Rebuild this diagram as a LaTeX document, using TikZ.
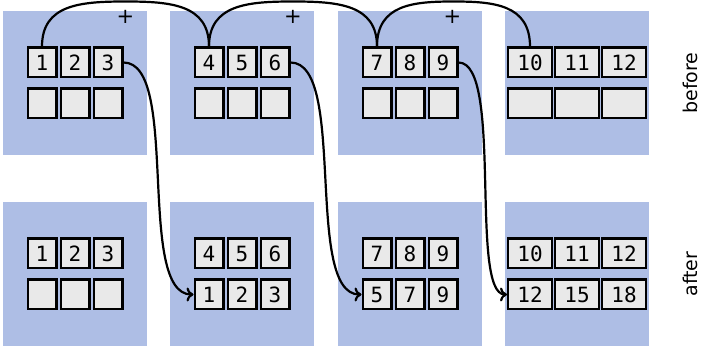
\documentclass[tikz,border=0pt]{standalone}
\usepackage{fontspec}
\setmainfont{DejaVu Sans}
\setsansfont{DejaVu Sans}
\setmonofont{DejaVu Sans Mono}
\usetikzlibrary{arrows.meta}

\definecolor{panelblue}{RGB}{174,190,229}
\definecolor{cellgray}{RGB}{233,233,233}

\newcommand\cellfont{\fontsize{21}{21}\selectfont\ttfamily}
\newcommand\labelfont{\fontsize{19}{19}\selectfont\sffamily}
\newcommand\plusfont{\fontsize{21}{21}\selectfont\sffamily}

% one row of three cells: name prefix, x of first cell, y, pitch, style, contents
\newcommand\cellrow[6]{%
  \foreach \v [count=\i] in {#6} {\node[#5] (#1\i) at ({#2+(\i-1)*#4},#3) {\v};}%
}

\tikzset{
  panel/.style={fill=panelblue, draw=none, minimum width=144pt, minimum height=144pt, inner sep=0pt},
  cell/.style={draw=black, line width=2.4pt, fill=cellgray, minimum width=28.6pt, minimum height=29.6pt, inner sep=0pt, font=\cellfont},
  widecell/.style={cell, minimum width=43.6pt},
  link/.style={line width=2.2pt, black},
  flow/.style={link, -{To[length=7pt,width=14pt]}},
  plus/.style={font=\plusfont, inner sep=0pt},
  rowlabel/.style={font=\labelfont, rotate=90, inner sep=0pt}
}

\begin{document}
\begin{tikzpicture}[x=1pt, y=-1pt]
  \useasboundingbox (0,0) rectangle (702,347);

  % panels
  \node[panel] (tp1) at (75,83) {};
  \node[panel] (tp2) at (242,83) {};
  \node[panel] (tp3) at (410,83) {};
  \node[panel] (tp4) at (577,83) {};
  \node[panel] (bp1) at (75,274) {};
  \node[panel] (bp2) at (242,274) {};
  \node[panel] (bp3) at (410,274) {};
  \node[panel] (bp4) at (577,274) {};

  % cells before
  \cellrow{t1a}{42}{62.5}{33}{cell}{1,2,3}
  \cellrow{t1b}{42}{103.5}{33}{cell}{{},{},{}}
  \cellrow{t2a}{209}{62.5}{33}{cell}{4,5,6}
  \cellrow{t2b}{209}{103.5}{33}{cell}{{},{},{}}
  \cellrow{t3a}{377}{62.5}{33}{cell}{7,8,9}
  \cellrow{t3b}{377}{103.5}{33}{cell}{{},{},{}}
  \cellrow{t4a}{530}{62.5}{47}{widecell}{10,11,12}
  \cellrow{t4b}{530}{103.5}{47}{widecell}{{},{},{}}

  % cells after
  \cellrow{b1a}{42}{253.5}{33}{cell}{1,2,3}
  \cellrow{b1b}{42}{294.5}{33}{cell}{{},{},{}}
  \cellrow{b2a}{209}{253.5}{33}{cell}{4,5,6}
  \cellrow{b2b}{209}{294.5}{33}{cell}{1,2,3}
  \cellrow{b3a}{377}{253.5}{33}{cell}{7,8,9}
  \cellrow{b3b}{377}{294.5}{33}{cell}{5,7,9}
  \cellrow{b4a}{530}{253.5}{47}{widecell}{10,11,12}
  \cellrow{b4b}{530}{294.5}{47}{widecell}{12,15,18}

  % tops of the arcs
  \coordinate (k1) at (125.5,1.5);
  \coordinate (k2) at (293,1.5);
  \coordinate (k3) at (453.5,1.5);

  % arcs joining the first cells
  \draw[link] (t1a1.north) .. controls +(0,-42) and +(-45,0) .. (k1)
              .. controls +(45,0) and +(0,-42) .. (t2a1.north);
  \draw[link] (t2a1.north) .. controls +(0,-42) and +(-45,0) .. (k2)
              .. controls +(45,0) and +(0,-42) .. (t3a1.north);
  \draw[link] (t3a1.north) .. controls +(0,-42) and +(-40,0) .. (k3)
              .. controls +(40,0) and +(0,-42) .. (t4a1.north);

  % plus signs under the arcs
  \node[plus] (s1) at (125.5,17) {+};
  \node[plus] (s2) at (293,17) {+};
  \node[plus] (s3) at (452.5,17) {+};

  % results carried down to the next block
  \draw[flow] (t1a3.east) .. controls +(57,0) and +(-58,0) .. (b2b1.west);
  \draw[flow] (t2a3.east) .. controls +(57,0) and +(-58,0) .. (b3b1.west);
  \draw[flow] (t3a3.east) .. controls +(45,0) and +(-38,0) .. (b4b1.west);

  % row labels
  \node[rowlabel] (lb) at (690,83) {before};
  \node[rowlabel] (la) at (690,274) {after};
\end{tikzpicture}
\end{document}
